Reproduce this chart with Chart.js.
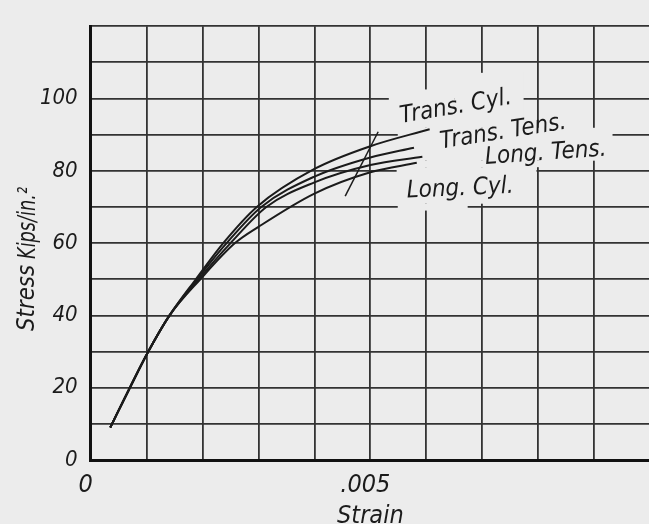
<!DOCTYPE html>
<html>
<head>
<meta charset="utf-8">
<script src="https://cdn.jsdelivr.net/npm/chart.js@4.4.1/dist/chart.umd.min.js"></script>
<style>
  html, body { margin: 0; padding: 0; background: #ececec; overflow: hidden; }
  #stressChart { display: block; }
</style>
</head>
<body>
<canvas id="stressChart" width="660" height="524"></canvas>
<script>
// strain / stress (kips/in.^2)
var sharedStrain = [0.00035, 0.0007, 0.00103, 0.00141];
var sharedStress = [9, 20, 30, 40];

var transCylStrain = [0.00188, 0.00237, 0.00297, 0.0040, 0.0050, 0.00606];
var transCylStress = [50, 60, 70, 80.5, 86.8, 91.5];

var transTensStrain = [0.00190, 0.00243, 0.00305, 0.0040, 0.0050, 0.00578];
var transTensStress = [50, 60, 70, 78.4, 83.7, 86.4];

var longTensStrain = [0.00193, 0.00250, 0.00314, 0.0040, 0.0050, 0.00593];
var longTensStress = [50, 60, 70, 76.8, 81.6, 83.9];

var longCylStrain = [0.00196, 0.00258, 0.0030, 0.0040, 0.0050, 0.00583];
var longCylStress = [50, 60, 64.5, 73.7, 79.6, 82.2];

// short slanted marker line crossing the curves near .005
var markStrain = [0.00455, 0.00514];
var markStress = [73, 90.8];

var curveNames = ['Trans. Cyl.', 'Trans. Tens.', 'Long. Tens.', 'Long. Cyl.'];
var yTickLabels = ['0', '20', '40', '60', '80', '100'];

var PAPER = '#ececec';
var INK = '#1b1b1b';
var FONT = "'DejaVu Sans Condensed', 'Liberation Sans Narrow', 'DejaVu Sans', sans-serif";

let toPoints = function(xs, ys) {
	var pts = [];
	for (var i = 0; i < xs.length; i++) {
		pts.push({ x: xs[i], y: ys[i] });
	}
	return pts;
};

let curve = function(name, xs, ys) {
	return {
		label: name,
		data: toPoints(sharedStrain.concat(xs), sharedStress.concat(ys)),
		borderColor: INK,
		borderWidth: 2,
		pointRadius: 0,
		fill: false,
		cubicInterpolationMode: 'monotone'
	};
};

// blank patches behind the curve labels (the grid is broken there), in data units
var labelPatches = [
	[0.00533, 0.00650, 91.9, 102.5],
	[0.00650, 0.00774, 91.9, 107.1],
	[0.00549, 0.00933, 82.8, 91.9],
	[0.00547, 0.00810, 81.0, 82.8],
	[0.00547, 0.00797, 70.9, 81.0],
	[0.00549, 0.00674, 69.0, 70.9]
];

// label text anchors (left baseline, data units) and tilt in degrees
var labelAnchors = [
	[0.005554, 93.2, -10],
	[0.006268, 86.2, -9],
	[0.007059, 81.9, -4],
	[0.005654, 72.6, -2.6]
];

// narrow hand lettering: draw text squeezed along its own direction
let squeezedText = function(c, text, x, y, angle, squeeze) {
	c.save();
	c.translate(x, y);
	c.rotate(angle);
	c.scale(squeeze, 1);
	c.fillText(text, 0, 0);
	c.restore();
};

var paperPlugin = {
	id: 'paper',
	beforeDraw: function(chart) {
		var ctx = chart.ctx;
		ctx.save();
		ctx.fillStyle = PAPER;
		ctx.fillRect(0, 0, chart.width, chart.height);
		ctx.restore();
	},
	beforeDatasetsDraw: function(chart) {
		var ctx = chart.ctx;
		var xs = chart.scales.x, ys = chart.scales.y;
		ctx.save();
		ctx.fillStyle = PAPER;
		labelPatches.forEach(function(p) {
			var x1 = xs.getPixelForValue(p[0]), x2 = xs.getPixelForValue(p[1]);
			var y1 = ys.getPixelForValue(p[3]), y2 = ys.getPixelForValue(p[2]);
			ctx.fillRect(x1, y1, x2 - x1, y2 - y1);
		});
		ctx.restore();
	},
	afterDraw: function(chart) {
		var ctx = chart.ctx;
		var xs = chart.scales.x, ys = chart.scales.y;
		ctx.save();
		ctx.fillStyle = INK;
		ctx.textBaseline = 'alphabetic';

		ctx.font = 'italic 24px ' + FONT;
		ctx.textAlign = 'left';
		var squeeze = Math.min(1, 112 / ctx.measureText('Long. Cyl.').width);
		for (var i = 0; i < curveNames.length; i++) {
			var a = labelAnchors[i];
			squeezedText(ctx, curveNames[i], xs.getPixelForValue(a[0]), ys.getPixelForValue(a[1]),
				a[2] * Math.PI / 180, squeeze);
		}

		// y axis title, two words placed like the original lettering
		ctx.textAlign = 'center';
		ctx.font = 'italic 25px ' + FONT;
		squeezedText(ctx, 'Stress', 34, 298, -Math.PI / 2,
			Math.min(1, 66 / ctx.measureText('Stress').width));
		squeezedText(ctx, 'Kips/in.\u00B2', 35, 223, -Math.PI / 2,
			Math.min(1, 72 / ctx.measureText('Kips/in.\u00B2').width));
		ctx.restore();
	}
};

var datasets = [
	curve(curveNames[0], transCylStrain, transCylStress),
	curve(curveNames[1], transTensStrain, transTensStress),
	curve(curveNames[2], longTensStrain, longTensStress),
	curve(curveNames[3], longCylStrain, longCylStress),
	{
		label: 'marker',
		data: toPoints(markStrain, markStress),
		borderColor: INK,
		borderWidth: 1.5,
		pointRadius: 0,
		fill: false
	}
];

var ctx = document.getElementById('stressChart');

var stressChart = new Chart(ctx, {
	type: 'line',
	data: { datasets: datasets },
	plugins: [paperPlugin],
	options: {
		responsive: false,
		animation: false,
		devicePixelRatio: 1,
		layout: { padding: { top: 10.7, right: 9.3, left: 0, bottom: 0 } },
		plugins: {
			legend: { display: false },
			tooltip: { enabled: false }
		},
		scales: {
			x: {
				type: 'linear',
				min: 0,
				max: 0.01,
				afterFit: function(scale) { scale.height = 64; },
				grid: { color: '#333', lineWidth: 1.8, drawTicks: false },
				border: { color: '#111', width: 3 },
				ticks: {
					stepSize: 0.001,
					autoSkip: false,
					maxRotation: 0,
					padding: 10,
					labelOffset: -5,
					color: INK,
					font: { family: FONT, size: 25, style: 'italic' },
					callback: function(v) {
						var k = Math.round(v * 1000);
						if (k === 0) return '0';
						if (k === 5) return '.005';
						return '';
					}
				},
				title: {
					display: true,
					text: 'Strain',
					color: INK,
					padding: { top: 0, bottom: -2 },
					font: { family: FONT, size: 25, style: 'italic', lineHeight: 0.8 }
				}
			},
			y: {
				min: 0,
				max: 120,
				afterFit: function(scale) { scale.width = 90.7; },
				grid: { color: '#333', lineWidth: 1.8, drawTicks: false },
				border: { color: '#111', width: 3 },
				ticks: {
					stepSize: 10,
					autoSkip: false,
					padding: 13,
					color: INK,
					font: { family: FONT, size: 22, style: 'italic' },
					callback: function(v) {
						var idx = yTickLabels.indexOf(String(v));
						return idx >= 0 ? yTickLabels[idx] : '';
					}
				}
			}
		}
	}
});
</script>
</body>
</html>
